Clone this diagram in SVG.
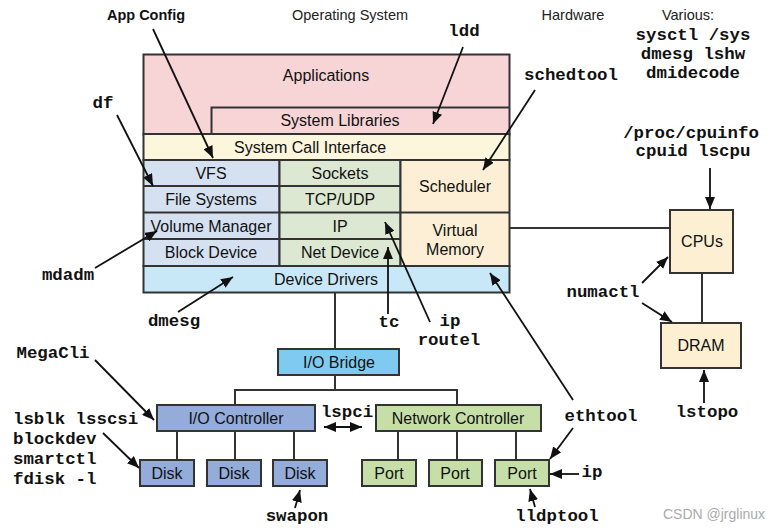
<svg xmlns="http://www.w3.org/2000/svg" width="776" height="531" viewBox="0 0 776 531">
<defs>
<marker id="ah" markerUnits="userSpaceOnUse" markerWidth="13" markerHeight="10" refX="12" refY="5" orient="auto-start-reverse" viewBox="0 0 13 10"><path d="M0,0 L12,5 L0,10 z" fill="#111"/></marker>
<style>
.b{stroke:#333;stroke-width:2}
.t{font-family:"Liberation Sans",Arial,sans-serif;font-size:16px;fill:#111;text-anchor:middle}
.h{font-family:"Liberation Sans",Arial,sans-serif;font-size:14.5px;fill:#222;text-anchor:middle}
.m{font-family:"Liberation Mono","Courier New",monospace;font-size:17.4px;font-weight:bold;fill:#111}
.c{text-anchor:middle}
.a{stroke:#111;stroke-width:1.8;fill:none;marker-end:url(#ah)}
.l{stroke:#333;stroke-width:2;fill:none}
</style>
</defs>
<rect width="776" height="531" fill="#fff"/>

<g id="headers">
<text x="146" y="20" class="h" style="font-weight:bold;fill:#111">App Config</text>
<text x="350" y="20" class="h">Operating System</text>
<text x="573" y="20" class="h">Hardware</text>
<text x="688" y="20" class="h">Various:</text>
</g>

<g id="connectors">
<line class="l" x1="510" y1="228" x2="670" y2="228"/>
<line class="l" x1="702" y1="273" x2="702" y2="323"/>
<line class="l" x1="335" y1="293" x2="335" y2="349"/>
<polyline class="l" points="335,375 335,390"/>
<polyline class="l" points="235,405 235,390 457,390 457,405"/>
<line class="l" x1="177" y1="431" x2="177" y2="460"/>
<line class="l" x1="235" y1="431" x2="235" y2="460"/>
<line class="l" x1="294" y1="431" x2="294" y2="460"/>
<line class="l" x1="398" y1="431" x2="398" y2="460"/>
<line class="l" x1="457" y1="431" x2="457" y2="460"/>
<line class="l" x1="516" y1="431" x2="516" y2="460"/>
</g>

<g id="os-stack">
<rect x="143.5" y="54.5" width="366" height="80" fill="#f7d5d6" class="b"/>
<polyline points="211.5,134 211.5,107.5 509.5,107.5" fill="none" class="b"/>
<rect x="143.5" y="134" width="366" height="26" fill="#fbf6dc" class="b"/>
<rect x="143.5" y="160" width="136" height="106" fill="#d5e1f1" class="b"/>
<rect x="279.5" y="160" width="121" height="106" fill="#dce8d2" class="b"/>
<rect x="400.5" y="160" width="109" height="106" fill="#fcefd5" class="b"/>
<line x1="143.5" y1="186" x2="400.5" y2="186" class="b"/>
<line x1="143.5" y1="212.5" x2="509.5" y2="212.5" class="b"/>
<line x1="143.5" y1="239" x2="400.5" y2="239" class="b"/>
<rect x="143.5" y="266" width="366" height="26.5" fill="#c8e8f7" class="b"/>
</g>
<g id="os-labels">
<text x="326" y="81" class="t">Applications</text>
<text x="340" y="126" class="t">System Libraries</text>
<text x="310" y="153" class="t">System Call Interface</text>
<text x="211" y="179" class="t">VFS</text>
<text x="340" y="179" class="t">Sockets</text>
<text x="211" y="205" class="t">File Systems</text>
<text x="340" y="205" class="t">TCP/UDP</text>
<text x="211" y="232" class="t">Volume Manager</text>
<text x="340" y="232" class="t">IP</text>
<text x="211" y="258" class="t">Block Device</text>
<text x="340" y="258" class="t">Net Device</text>
<text x="326" y="285" class="t">Device Drivers</text>
<text x="455" y="192" class="t">Scheduler</text>
<text x="455" y="236" class="t">Virtual</text>
<text x="455" y="255" class="t">Memory</text>
</g>

<g id="cpus"><rect x="670" y="210" width="63" height="63" fill="#fcefd2" class="b"/><text x="702" y="247" class="t">CPUs</text></g>
<g id="dram"><rect x="661" y="323" width="80" height="45" fill="#fcefd2" class="b"/><text x="701" y="351" class="t">DRAM</text></g>
<g id="io-bridge"><rect x="278" y="349" width="121" height="26" fill="#7fcbef" class="b"/><text x="339" y="368" class="t">I/O Bridge</text></g>
<g id="io-controller"><rect x="157" y="405" width="158" height="26" fill="#93acd9" class="b"/><text x="236" y="424" class="t">I/O Controller</text></g>
<g id="net-controller"><rect x="376" y="405" width="165" height="26" fill="#c6dfa9" class="b"/><text x="458" y="424" class="t">Network Controller</text></g>
<g id="disk1"><rect x="140" y="460" width="54" height="26" fill="#93acd9" class="b"/><text x="167" y="479" class="t">Disk</text></g>
<g id="disk2"><rect x="207" y="460" width="54" height="26" fill="#93acd9" class="b"/><text x="234" y="479" class="t">Disk</text></g>
<g id="disk3"><rect x="273" y="460" width="54" height="26" fill="#93acd9" class="b"/><text x="300" y="479" class="t">Disk</text></g>
<g id="port1"><rect x="362" y="460" width="54" height="26" fill="#c6dfa9" class="b"/><text x="389" y="479" class="t">Port</text></g>
<g id="port2"><rect x="429" y="460" width="53" height="26" fill="#c6dfa9" class="b"/><text x="455" y="479" class="t">Port</text></g>
<g id="port3"><rect x="495" y="460" width="54" height="26" fill="#c6dfa9" class="b"/><text x="522" y="479" class="t">Port</text></g>

<g id="tools">
<text x="464" y="36" class="m c">ldd</text>
<text x="693" y="40" class="m c">sysctl /sys</text>
<text x="693" y="59" class="m c">dmesg lshw</text>
<text x="693" y="78" class="m c">dmidecode</text>
<text x="571" y="80" class="m c">schedtool</text>
<text x="103" y="108" class="m c">df</text>
<text x="691" y="138" class="m c">/proc/cpuinfo</text>
<text x="693" y="156" class="m c">cpuid lscpu</text>
<text x="68" y="280" class="m c">mdadm</text>
<text x="174" y="326" class="m c">dmesg</text>
<text x="389" y="327" class="m c">tc</text>
<text x="450" y="326" class="m c">ip</text>
<text x="449" y="345" class="m c">routel</text>
<text x="603" y="297" class="m c">numactl</text>
<text x="53" y="358" class="m c">MegaCli</text>
<text x="13" y="424" class="m">lsblk lsscsi</text>
<text x="13" y="444" class="m">blockdev</text>
<text x="13" y="464" class="m">smartctl</text>
<text x="13" y="484" class="m">fdisk -l</text>
<text x="347" y="417" class="m c">lspci</text>
<text x="601" y="421" class="m c">ethtool</text>
<text x="707" y="417" class="m c">lstopo</text>
<text x="592" y="477" class="m c">ip</text>
<text x="297" y="521" class="m c">swapon</text>
<text x="557" y="521" class="m c">lldptool</text>
<text x="714" y="519" style="font-family:'Liberation Sans',Arial,sans-serif;font-size:14px;fill:#aaa;text-anchor:middle">CSDN @jrglinux</text>
</g>

<g id="arrows">
<line class="a" x1="153" y1="29" x2="213" y2="158"/>
<line class="a" x1="463" y1="47" x2="433" y2="124"/>
<line class="a" x1="535" y1="90" x2="483" y2="170"/>
<line class="a" x1="117" y1="115" x2="153" y2="186"/>
<line class="a" x1="95" y1="268" x2="157" y2="231"/>
<line class="a" x1="178" y1="312" x2="233" y2="277"/>
<line class="a" x1="388" y1="314" x2="388" y2="247"/>
<line class="a" x1="430" y1="322" x2="385" y2="222"/>
<line class="a" x1="573" y1="400" x2="490" y2="273"/>
<line class="a" x1="573" y1="428" x2="550" y2="459"/>
<line class="a" x1="710" y1="168" x2="710" y2="209"/>
<line class="a" x1="642" y1="283" x2="668" y2="257"/>
<line class="a" x1="642" y1="303" x2="672" y2="322"/>
<line class="a" x1="704" y1="403" x2="704" y2="370"/>
<line class="a" x1="95" y1="360" x2="154" y2="420"/>
<line class="a" x1="103" y1="433" x2="139" y2="468"/>
<line class="a" x1="295" y1="508" x2="300" y2="490"/>
<line class="a" x1="535" y1="507" x2="530" y2="489"/>
<line class="a" x1="579" y1="474" x2="550" y2="474"/>
<line class="a" x1="324" y1="427" x2="362" y2="427" style="marker-start:url(#ah)"/>
</g>
</svg>
